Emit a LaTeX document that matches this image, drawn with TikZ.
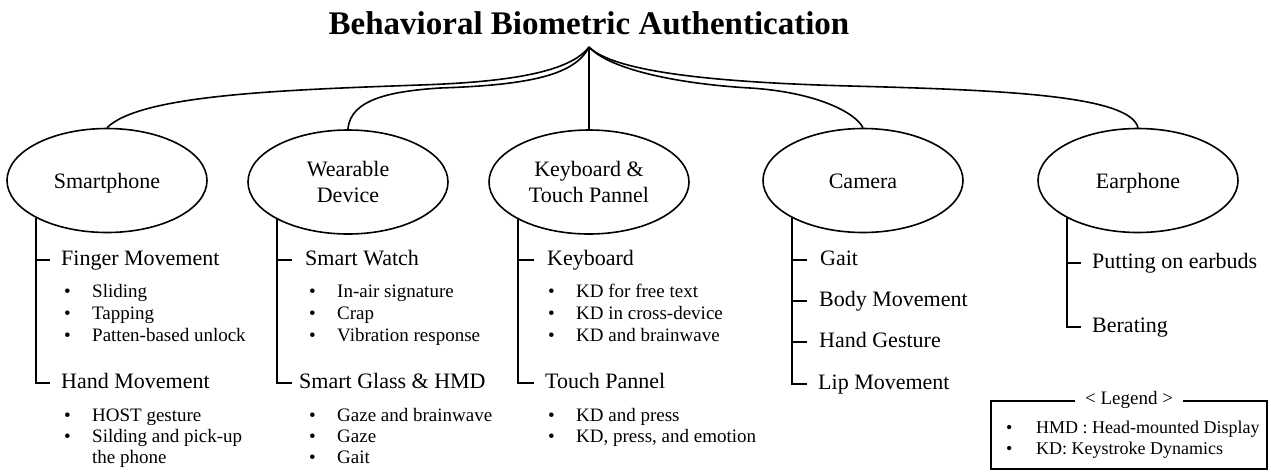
\documentclass[tikz,border=0pt]{standalone}
\usepackage{fontspec}
\setmainfont{Liberation Serif}
\usetikzlibrary{shapes.geometric}
\newcommand\blt[1]{\makebox[28pt][l]{\textbullet}#1}
\tikzset{
  conn/.style={line width=1.6pt},
  ell/.style={draw, ellipse, line width=1.6pt, minimum width=200pt, minimum height=104pt,
    inner sep=0pt, align=center, font=\fontsize{22}{26}\selectfont},
  ellone/.style={ell, text height=15pt, text depth=0pt},
  head/.style={anchor=west, inner sep=0pt, font=\fontsize{22}{26}\selectfont, text height=15pt, text depth=5pt},
  itm/.style={anchor=west, inner sep=0pt, font=\fontsize{19}{22}\selectfont, text height=13pt, text depth=4pt},
  legitm/.style={anchor=west, inner sep=0pt, font=\fontsize{18}{21}\selectfont, text height=12pt, text depth=4pt},
}
\begin{document}
\begin{tikzpicture}[x=1pt,y=-1pt]
\useasboundingbox (0,0) rectangle (1271,472);

% title and apex
\node[anchor=base, inner sep=0pt, font=\fontsize{33}{40}\selectfont\bfseries] (title) at (589,34) {Behavioral Biometric Authentication};
\coordinate (apex) at (589,47);

% categories
\node[ellone] (sm) at (107,180.5) {Smartphone};
\node[ell] (wd) at (348,182) {Wearable\\Device};
\node[ell] (kb) at (589,182) {Keyboard \&\\Touch Pannel};
\node[ellone] (cam) at (863,180.5) {Camera};
\node[ellone] (ep) at (1138,180.5) {Earphone};

% connectors from root
\draw[conn] (apex) .. controls (570,72) and (510,82) .. (420,85) .. controls (280,90) and (140,95) .. (sm.north);
\draw[conn] (apex) .. controls (575,75) and (530,85) .. (440,88) .. controls (395,91) and (350,98) .. (wd.north);
\draw[conn] (apex) -- (kb.north);
\draw[conn] (apex) .. controls (610,70) and (680,84) .. (750,88) .. controls (815,92) and (855,112) .. (cam.north);
\draw[conn] (apex) .. controls (612,70) and (700,82) .. (850,86) .. controls (1000,90) and (1130,95) .. (ep.north);

% Smartphone
\node[head] (fm) at (61,260) {Finger Movement};
\node[itm] (fm1) at (64,293) {\blt{Sliding}};
\node[itm] (fm2) at (64,315) {\blt{Tapping}};
\node[itm] (fm3) at (64,337) {\blt{Patten-based unlock}};
\node[head] (hm) at (61,383) {Hand Movement};
\node[itm] (hm1) at (64,417) {\blt{HOST gesture}};
\node[itm] (hm2) at (64,438) {\blt{Silding and pick-up}};
\node[itm] (hm3) at (92,459) {the phone};
\draw[conn] (sm.south west |- fm.west) -- ++(14,0);
\draw[conn] (sm.south west) -- (sm.south west |- hm.west) -- ++(14,0);

% Wearable
\node[head] (sw) at (305,260) {Smart Watch};
\node[itm] (sw1) at (309,293) {\blt{In-air signature}};
\node[itm] (sw2) at (309,315) {\blt{Crap}};
\node[itm] (sw3) at (309,337) {\blt{Vibration response}};
\node[head] (sg) at (299,383) {Smart Glass \& HMD};
\node[itm] (sg1) at (309,417) {\blt{Gaze and brainwave}};
\node[itm] (sg2) at (309,438) {\blt{Gaze}};
\node[itm] (sg3) at (309,459) {\blt{Gait}};
\draw[conn] (wd.south west |- sw.west) -- ++(15,0);
\draw[conn] (wd.south west) -- (wd.south west |- sg.west) -- ++(15,0);

% Keyboard
\node[head] (ky) at (547,260) {Keyboard};
\node[itm] (ky1) at (548,293) {\blt{KD for free text}};
\node[itm] (ky2) at (548,315) {\blt{KD in cross-device}};
\node[itm] (ky3) at (548,337) {\blt{KD and brainwave}};
\node[head] (tp) at (545,383) {Touch Pannel};
\node[itm] (tp1) at (548,417) {\blt{KD and press}};
\node[itm] (tp2) at (548,438) {\blt{KD, press, and emotion}};
\draw[conn] (kb.south west |- ky.west) -- ++(16,0);
\draw[conn] (kb.south west) -- (kb.south west |- tp.west) -- ++(16,0);

% Camera
\node[head] (c1) at (820,260) {Gait};
\node[head] (c2) at (819,301) {Body Movement};
\node[head] (c3) at (819,342) {Hand Gesture};
\node[head] (c4) at (818,384) {Lip Movement};
\draw[conn] (cam.south west |- c1.west) -- ++(15,0);
\draw[conn] (cam.south west |- c2.west) -- ++(15,0);
\draw[conn] (cam.south west |- c3.west) -- ++(15,0);
\draw[conn] (cam.south west) -- (cam.south west |- c4.west) -- ++(15,0);

% Earphone
\node[head] (e1) at (1092,263) {Putting on earbuds};
\node[head] (e2) at (1092,327) {Berating};
\draw[conn] (ep.south west |- e1.west) -- ++(14,0);
\draw[conn] (ep.south west) -- (ep.south west |- e2.west) -- ++(14,0);

% Legend
\node[draw, line width=1.4pt, minimum width=276pt, minimum height=68pt, inner sep=0pt] (legbox) at (1129,435) {};
\node[fill=white, inner xsep=10pt, inner ysep=0pt, font=\fontsize{19}{22}\selectfont] (legt) at (legbox.north) {< Legend >};
\node[legitm] (l1) at (1006,429) {\makebox[30pt][l]{\textbullet}HMD : Head-mounted Display};
\node[legitm] (l2) at (1006,450) {\makebox[30pt][l]{\textbullet}KD: Keystroke Dynamics};
\end{tikzpicture}
\end{document}
